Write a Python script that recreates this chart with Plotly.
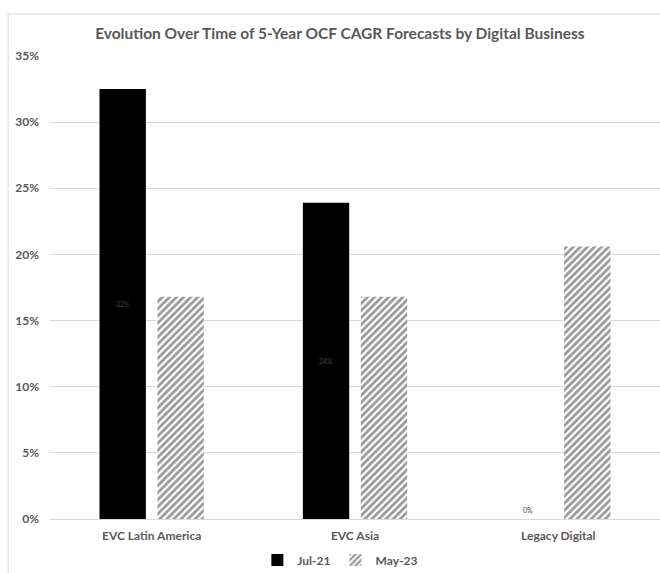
import plotly.graph_objects as go

categories = ["EVC Latin America", "EVC Asia", "Legacy Digital"]
jul21 = [32.5, 23.9, 0.0]
may23 = [16.8, 16.8, 20.6]
jul21_labels = ["32%", "24%", ""]
tick_vals = [0, 5, 10, 15, 20, 25, 30, 35]
tick_text = ["0%", "5%", "10%", "15%", "20%", "25%", "30%", "35%"]

FONT = "Lato"
GRAY = "#595959"

fig = go.Figure()
fig.add_trace(go.Bar(
    name="Jul-21", x=categories, y=jul21,
    marker=dict(color="#000000", line=dict(width=0)),
    text=jul21_labels, textposition="inside", insidetextanchor="middle",
    textangle=0, textfont=dict(family=FONT, size=7, color="#404040"),
    hoverinfo="x+y",
))
fig.add_trace(go.Bar(
    name="May-23", x=categories, y=may23,
    marker=dict(color="white", line=dict(width=0),
                pattern=dict(shape="/", fgcolor="#333333", bgcolor="white",
                             size=5, solidity=0.55)),
    hoverinfo="x+y",
))

# zero-valued label for Legacy Digital Jul-21
fig.add_annotation(x=categories[2], y=jul21[2], text="0%", showarrow=False,
                   xshift=-30, yanchor="bottom", yshift=3,
                   font=dict(family=FONT, size=7, color="#404040"))

# outer chart border
fig.add_shape(type="rect", xref="paper", yref="paper",
              x0=-0.0687, x1=1.05, y0=-0.3, y1=1.0907,
              line=dict(color="#d9d9d9", width=1), fillcolor="rgba(0,0,0,0)",
              layer="below")

fig.update_layout(
    width=660, height=573,
    margin=dict(l=50, r=0, t=56, b=54),
    paper_bgcolor="white", plot_bgcolor="white",
    barmode="group", bargap=0.43, bargroupgap=0.2,
    title=dict(text="Evolution Over Time of 5-Year OCF CAGR Forecasts by Digital Business",
               xref="container", yref="container", x=0.515, y=0.942,
               xanchor="center", yanchor="middle",
               font=dict(family=FONT, size=15.5, color=GRAY, weight="bold")),
    legend=dict(orientation="h", xref="paper", x=0.476, xanchor="center",
                yref="container", y=1 - 560 / 573, yanchor="middle",
                font=dict(family=FONT, size=12, color=GRAY, weight="bold"),
                itemwidth=30, tracegroupgap=0, bgcolor="rgba(0,0,0,0)"),
    xaxis=dict(showline=False, showgrid=False, ticks="", ticklabelstandoff=8,
               tickfont=dict(family=FONT, size=12, color=GRAY, weight="bold")),
    yaxis=dict(range=[0, 35], tickvals=tick_vals, ticktext=tick_text,
               showgrid=True, gridcolor="#d9d9d9", gridwidth=1,
               zeroline=True, zerolinecolor="#d9d9d9", zerolinewidth=1,
               showline=False, ticks="", ticklabelstandoff=10,
               tickfont=dict(family=FONT, size=12, color=GRAY, weight="bold")),
    showlegend=True,
)

fig.write_html("out.html")
